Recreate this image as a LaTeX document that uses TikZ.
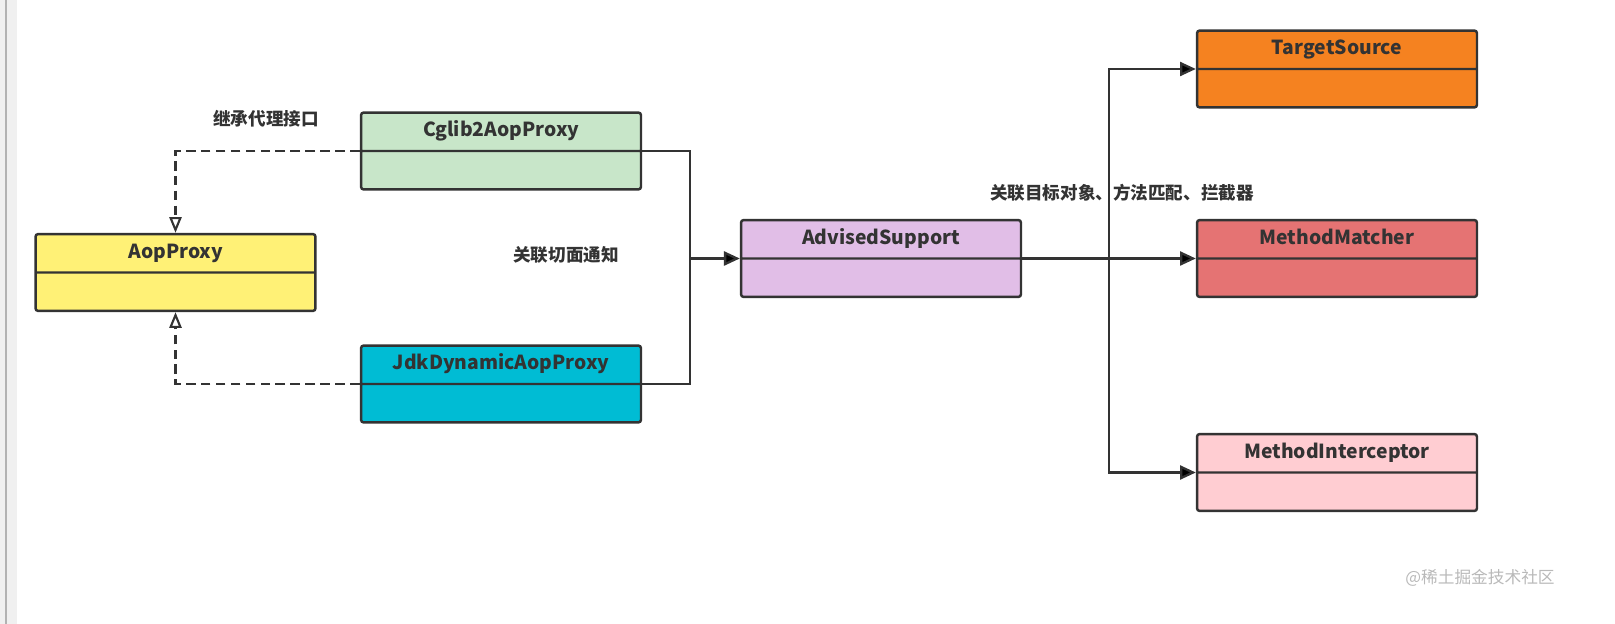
\documentclass[tikz,border=0pt]{standalone}
\usepackage{fontspec}
\setmainfont{Noto Sans CJK SC}
\usetikzlibrary{arrows.meta,shapes.multipart}

\definecolor{linec}{HTML}{333333}
\definecolor{aopc}{HTML}{FFF176}
\definecolor{cglibc}{HTML}{C8E6C9}
\definecolor{jdkc}{HTML}{00BCD4}
\definecolor{advc}{HTML}{E1BEE7}
\definecolor{tsc}{HTML}{F58220}
\definecolor{mmc}{HTML}{E57373}
\definecolor{mic}{HTML}{FFCDD2}

\newcommand{\emptypart}{\rule[-0.1cm]{0pt}{0.4cm}}

\tikzset{
  cls/.style={rectangle split, rectangle split parts=2, draw=linec, line width=1.4pt,
    rounded corners=1.5pt, minimum width=5.6cm, text width=5.3cm, align=center,
    inner ysep=0.16cm, text height=0.3cm, text depth=0.1cm,
    font=\fontsize{11}{12}\selectfont\bfseries, text=linec},
  note/.style={font=\fontsize{10}{12}\selectfont\bfseries, text=linec},
  impl/.style={draw=linec, line width=1.4pt, dash pattern=on 5.5pt off 3pt,
    -{Triangle[open, length=9pt, width=7pt, line width=1.2pt]}},
  assoc/.style={draw=linec, line width=1.3pt},
  >={Triangle[length=9pt, width=8pt]}
}

\begin{document}
\begin{tikzpicture}[x=0.02cm, y=-0.02cm]
\useasboundingbox (0,0) rectangle (1615,624);
\fill[gray!12] (0,0) rectangle (17,624);
\draw[gray!60, line width=0.8pt] (6,0) -- (6,624);

% classes
\node[cls, fill=aopc] (aop) at (175.5,272.5) {AopProxy \nodepart{second}\emptypart};
\node[cls, fill=cglibc] (cglib) at (501,151) {Cglib2AopProxy \nodepart{second}\emptypart};
\node[cls, fill=jdkc] (jdk) at (501,384) {JdkDynamicAopProxy \nodepart{second}\emptypart};
\node[cls, fill=advc] (adv) at (881,258.5) {AdvisedSupport \nodepart{second}\emptypart};
\node[cls, fill=tsc] (ts) at (1337,69) {TargetSource \nodepart{second}\emptypart};
\node[cls, fill=mmc] (mm) at (1337,258.5) {MethodMatcher \nodepart{second}\emptypart};
\node[cls, fill=mic] (mi) at (1337,472.5) {MethodInterceptor \nodepart{second}\emptypart};

% labels
\node[note] (inh) at (266,119) {继承代理接口};
\node[note] (asp) at (566,255) {关联切面通知};
\node[note] (tgt) at (1122,193) {关联目标对象、方法匹配、拦截器};
\node[font=\fontsize{9.5}{11}\selectfont, text=gray!55] (mark) at (1480,578) {@稀土掘金技术社区};

% inheritance
\draw[impl] (cglib.text split west) -| (aop.north);
\draw[impl] (jdk.text split west) -| (aop.south);

% association
\path (adv.text split west) ++(-50,0) coordinate (j1);
\path (adv.text split east) ++(87,0) coordinate (j2);
\draw[assoc] (cglib.text split east) -| (j1);
\draw[assoc] (jdk.text split east) -| (j1);
\draw[assoc, ->] (j1) -- (adv.text split west);
\draw[assoc] (adv.text split east) -- (j2);
\draw[assoc, ->] (j2) |- (ts.text split west);
\draw[assoc, ->] (j2) -- (mm.text split west);
\draw[assoc, ->] (j2) |- (mi.text split west);
\end{tikzpicture}
\end{document}
